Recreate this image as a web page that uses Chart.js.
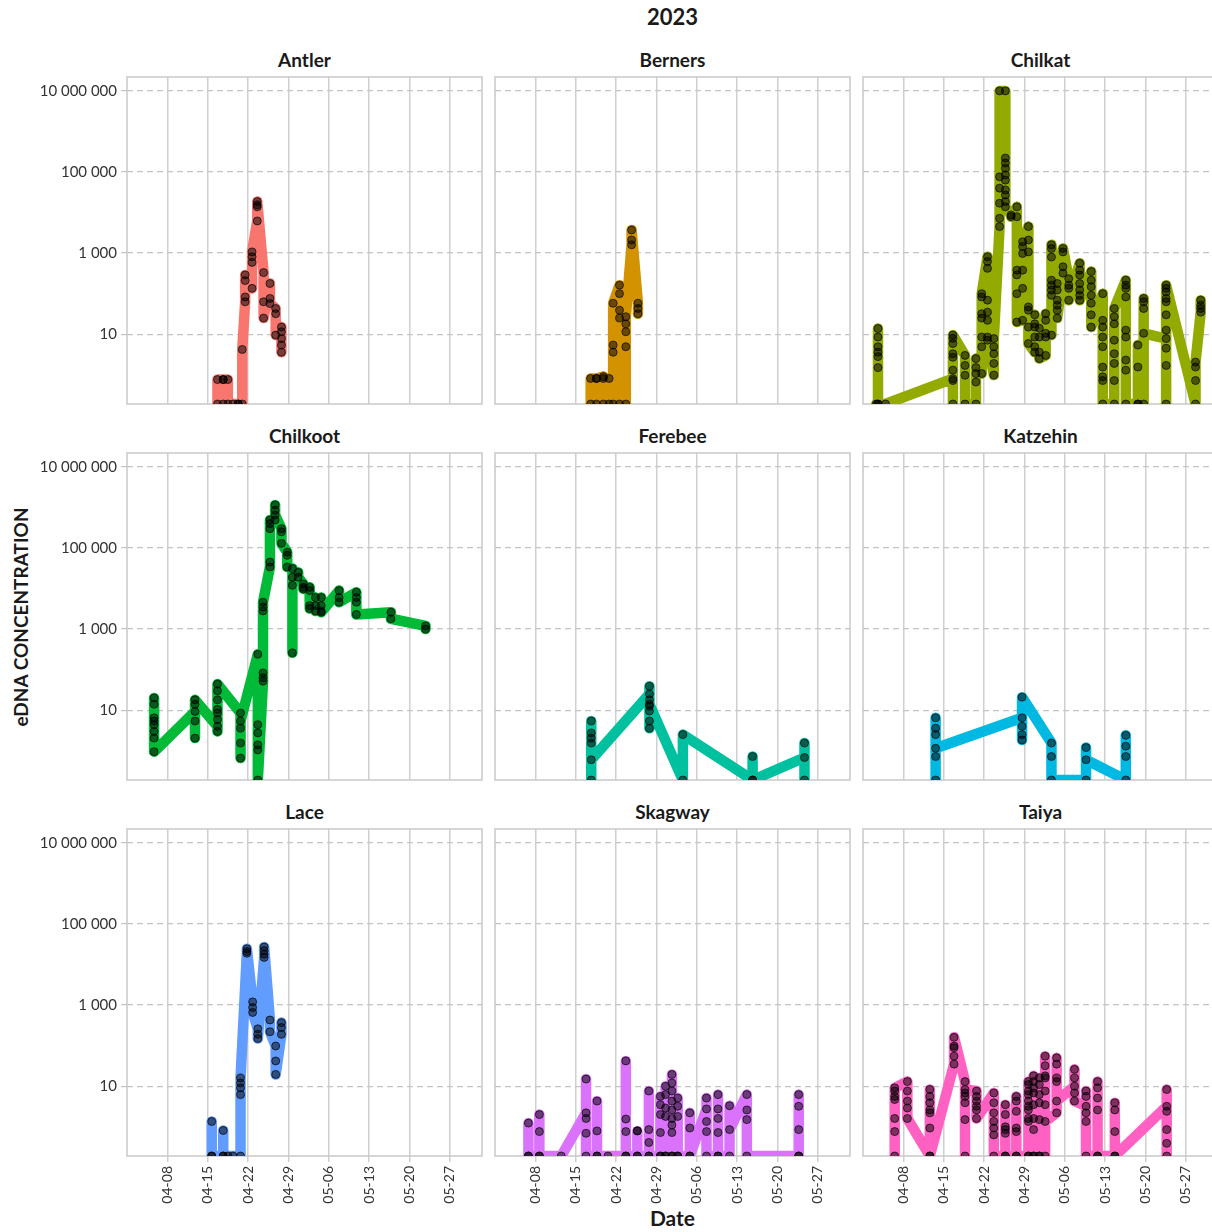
<!DOCTYPE html>
<html lang="en">
<head>
<meta charset="UTF-8">
<title>eDNA concentration 2023</title>
<script src="https://cdn.jsdelivr.net/npm/chart.js"></script>
<style>
  html, body { margin:0; padding:0; background:#fff; overflow:hidden; }
  body { width:1212px; height:1232px; position:relative; font-family:Lato, 'Open Sans', sans-serif; color:#1a1a1a; }
  canvas { position:absolute; }
  .txt { position:absolute; font-weight:bold; white-space:nowrap; line-height:1; }
  .ptitle { width:355px; text-align:center; font-size:19px; }
</style>
</head>
<body>
<div class="txt" id="fig-title" style="left:0;width:1345px;text-align:center;top:6px;font-size:22px;">2023</div>
<div class="txt" id="ylab" style="left:20px;top:617px;font-size:19px;transform:translate(-50%,-50%) rotate(-90deg);">eDNA CONCENTRATION</div>
<div class="txt" id="xlab" style="left:0;width:1345px;text-align:center;top:1207px;font-size:21px;">Date</div>

<script>
const SITES = ['Antler', 'Berners', 'Chilkat', 'Chilkoot', 'Ferebee', 'Katzehin', 'Lace', 'Skagway', 'Taiya'];
const COLORS = ['#F8766D', '#D39200', '#93AA00', '#00BA38', '#00C19F', '#00B9E3', '#619CFF', '#DB72FB', '#FF61C3'];
const X_TICK_DAYS = [7, 14, 21, 28, 35, 42, 49, 56];           // days after 04-01
const X_TICK_LABELS = ['04-08', '04-15', '04-22', '04-29', '05-06', '05-13', '05-20', '05-27'];
const Y_TICKS = [10, 1000, 100000, 10000000];

// days counted from 04-01, each values entry = replicates of that day in drawing order (0 = not detected)
const antlerDays = [15.7, 16.7, 17.5, 18.4, 19.3, 20.0, 20.5, 21.7, 22.6, 23.7, 24.8, 25.8, 26.8];
const antlerValues = [
  [0, 0.76], [0.76, 0, 0.76], [0.76, 0], [0], [0, 0], [0, 4.2],
  [63, 83, 210, 290], [135, 590, 810, 1070], [6200, 13800, 15500, 18600],
  [330, 63, 25], [178, 76, 57], [43, 32, 9.5], [15, 11.5, 7.8, 5.4, 3.6]
];

const bernersDays = [16.6, 17.6, 18.8, 19.8, 20.5, 21.6, 22.7, 23.7, 24.8];
const bernersValues = [
  [0, 0.81], [0.81, 0, 0.81], [0.9, 0, 0.81], [0.81, 0], [0, 3.6, 5.4, 58],
  [162, 100, 39, 25, 0], [0, 4.9, 11.5, 18, 27], [1600, 2100, 3700], [58, 43, 32]
];

const chilkatDays = [2.3, 2.6, 3.9, 15.6, 17.7, 19.6, 20.6, 21.6, 22.7, 23.7, 24.7, 25.7, 26.7, 27.7, 28.7,
  29.8, 30.6, 31.7, 32.7, 33.7, 34.7, 35.7, 37.6, 39.6, 41.6, 43.6, 45.6, 47.7, 48.7, 52.6, 57.7, 58.6];
const chilkatValues = [
  [0], [0, 1.5, 2.8, 3.6, 4.9, 8.5, 13.8, 0], [0],
  [0.8, 0, 0.72, 1.3, 2.7, 3.3, 5.9, 7.9, 9.5],
  [3.0, 1.7, 0.97, 0],
  [0, 0.66, 1.07, 1.5, 2.5],
  [1.07, 4.9, 8.5, 25, 32, 83, 100],
  [810, 620, 420, 69, 35, 22, 8.5, 7.1],
  [0.98, 1.9, 3.3, 4.9, 7.8],
  [4500, 7200, 17000, 40000, 76000, 10000000],
  [10000000, 220000, 166000, 123000, 85000, 63000, 36000, 27000, 18600, 13800],
  [8700, 7900],
  [13800, 7900, 380, 290, 100, 20],
  [22, 135, 380, 980, 1450, 1900],
  [4500, 2100, 1070, 47, 39, 15, 5.9],
  [3.6, 4.9, 8.5, 15, 18, 30],
  [14, 8.5, 3.6, 2.5],
  [3.0, 8.5, 10.5, 22, 32],
  [9.5, 91, 123, 162, 214, 800, 1300, 1600],
  [178, 123, 69, 52, 39, 25],
  [320, 460, 1070, 1300],
  [234, 162, 135, 69],
  [560, 380, 290, 178, 123, 91, 69],
  [350, 214, 148, 91, 58, 30, 15],
  [100, 22, 15, 8.5, 4.9, 1.55, 0.89, 0.72, 0],
  [0, 0.72, 1.9, 3.3, 7.1, 18, 27, 43],
  [214, 162, 135, 83, 12.6, 8.5, 2.3, 1.3, 0],
  [0, 5.4, 1.55, 0],
  [0, 76, 63, 43, 10.5],
  [7.8, 4.5, 1.7, 0, 12.6, 30, 63, 76, 110, 135, 162],
  [0, 0.72, 1.55, 2.05],
  [35, 43, 52, 69]
];

const chilkootDays = [4.7, 11.8, 15.7, 19.7, 22.7, 23.6, 24.8, 25.7, 26.8, 27.8, 28.7, 29.7, 30.6, 31.7, 32.7, 33.7, 36.8, 39.8, 45.8, 51.8];
const chilkootValues = [
  [20, 14, 6.5, 5.4, 4.4, 3.0, 2.05, 0.95],
  [9.3, 5.4, 2.05, 14, 18],
  [4.0, 3.0, 5.9, 8.5, 10.5, 18, 30, 44],
  [8.5, 3.6, 1.55, 0.66, 5.4],
  [240, 4.4, 2.75, 1.4, 1.05, 0],
  [52, 63, 83, 2800, 3500, 4600],
  [34000, 45000, 300000, 400000, 490000],
  [490000, 850000, 1150000, 650000],
  [300000, 250000, 130000],
  [79000, 66000, 34000],
  [31000, 260, 19000, 12000],
  [25000, 19000],
  [13000, 10700, 9800],
  [10700, 8900, 3800, 3200],
  [6000, 3800, 2800],
  [6000, 3800, 2800, 2600],
  [8900, 6000, 4600],
  [8100, 6000, 4600, 2300],
  [2600, 1800],
  [1200, 1000]
];

const ferebeeDays = [16.7, 26.8, 32.6, 44.7, 53.7];
const ferebeeValues = [
  [5.4, 2.75, 2.05, 1.55, 0, 0.6],
  [25, 39, 18, 12.6, 9.5, 5.4, 3.6, 14],
  [0, 2.5],
  [0, 0.72, 0],
  [0.68, 1.55, 0]
];

const katzehinDays = [12.6, 27.6, 32.7, 38.7, 45.6];
const katzehinValues = [
  [0, 0.72, 6.5, 3.6, 2.5, 1.15],
  [6.5, 4.0, 2.5, 1.85, 21],
  [1.55, 0.72, 0],
  [0, 1.2, 0.6],
  [0, 0.72, 1.3, 2.4]
];

const laceDays = [14.7, 16.7, 17.5, 18.4, 19.7, 20.8, 21.8, 22.7, 23.8, 24.8, 25.8, 26.8];
const laceValues = [
  [0, 1.35, 0], [0, 0.81, 0], [0], [0],
  [0, 6.2, 9.1, 12, 16],
  [19000, 21000, 24500],
  [1200, 870, 660],
  [260, 190, 150],
  [15000, 18000, 22000, 27000],
  [430, 220],
  [98, 42, 19.5],
  [190, 280, 370]
];

const skagwayDays = [5.8, 7.7, 11.5, 15.8, 17.7, 19.6, 22.7, 24.7, 26.7, 28.7, 29.6, 30.7, 31.7, 33.8, 36.7, 38.7, 40.7, 43.7, 52.7];
const skagwayValues = [
  [0, 1.23, 0],
  [0, 2.0, 0.76, 0],
  [0],
  [2.2, 15, 1.6, 0.69, 0],
  [0, 4.3, 0.79, 0],
  [0],
  [0, 42, 1.55, 0.76, 0],
  [0, 0.79, 0.79, 0],
  [0, 7.6, 0.85, 0.41, 0],
  [0, 5.6, 3.5, 2.0, 0.72, 0],
  [0, 10, 6.2, 2.9, 1.8, 0],
  [0, 19.5, 12, 7.6, 4.3, 2.6, 1.6, 1.1, 0.72, 0],
  [0, 5.1, 3.2, 1.8, 0],
  [0, 2.2, 0.93, 0],
  [2.75, 5.1, 1.35, 0.76, 0],
  [0, 6.2, 2.75, 1.6, 0.72, 0],
  [0, 3.3, 0.85],
  [6.2, 2.6, 1.5, 0],
  [0, 6.2, 3.2, 0.85, 0]
];

const taiyaDays = [5.5, 7.7, 11.6, 15.8, 17.7, 19.7, 22.7, 24.7, 26.6, 28.7, 29.6, 30.6, 31.6, 33.6, 36.7, 38.7, 40.7, 43.7, 52.7];
const taiyaValues = [
  [0, 0.76, 1.6, 4.7, 5.6, 7.6, 9.1],
  [13, 7.6, 4.3, 2.9, 1.6],
  [0, 8.3, 5.6, 3.9, 2.6, 2.2, 0.93, 0],
  [35, 55, 89, 98, 160],
  [13, 0, 1.5, 3.9, 5.6, 6.8, 8.3],
  [7.6, 5.6, 4.3, 3.2, 2.6, 1.6],
  [6.8, 3.9, 2.2, 1.35, 0.93, 0.63, 0],
  [0, 0.69, 0.85, 1.0, 2.0, 3.5, 0],
  [0, 2.4, 4.3, 5.6, 0.93, 0.76, 0],
  [0, 1.35, 1.6, 2.6, 3.2, 4.3, 6.2, 7.6, 11, 13, 0],
  [0, 13, 18, 9.1, 6.8, 3.5, 1.6, 0.85, 0],
  [0, 1.5, 3.9, 6.2, 11, 16, 0],
  [0, 16, 55, 32, 18, 7.6, 3.5, 1.35],
  [2.2, 13, 16, 35, 50, 4.3],
  [10, 26, 16, 6.8, 4.3],
  [3.2, 7.6, 5.6, 2.2, 1.35, 0],
  [0, 13, 9.1, 5.1, 2.6, 0],
  [0, 3.9, 2.6, 0.76, 0],
  [3.2, 8.3, 2.4, 0.85, 0.39, 0]
];

const SERIES = [
  [antlerDays, antlerValues], [bernersDays, bernersValues], [chilkatDays, chilkatValues],
  [chilkootDays, chilkootValues], [ferebeeDays, ferebeeValues], [katzehinDays, katzehinValues],
  [laceDays, laceValues], [skagwayDays, skagwayValues], [taiyaDays, taiyaValues]
];

// layout of the facet grid
const X_MIN = 0, X_MAX = 61.6;
const Y_MIN = 0.19, Y_MAX = 2.2e7;
const PLOT_W = 355, PLOT_H = 327;
const COL_LEFT = [127, 495, 863];
const ROW_TOP = [77, 453, 829];

function spaced(v) {
  return Math.round(v).toString().replace(/\B(?=(\d{3})+(?!\d))/g, ' ');
}

// frame around each facet, under the data
const framePlugin = {
  id: 'frame',
  beforeDatasetsDraw(chart) {
    const { ctx, chartArea: a } = chart;
    ctx.save();
    ctx.strokeStyle = '#c9c9c9';
    ctx.lineWidth = 1.5;
    ctx.strokeRect(a.left, a.top, a.right - a.left, a.bottom - a.top);
    ctx.restore();
  }
};

SITES.forEach((site, i) => {
  const r = Math.floor(i / 3), c = i % 3;
  const padL = c === 0 ? 127 : 6, padR = 6, padT = 6, padB = r === 2 ? 62 : 6;

  const title = document.createElement('div');
  title.className = 'txt ptitle';
  title.textContent = site;
  title.style.left = COL_LEFT[c] + 'px';
  title.style.top = (ROW_TOP[r] - 27) + 'px';
  document.body.appendChild(title);

  const cv = document.createElement('canvas');
  cv.width = padL + PLOT_W + padR;
  cv.height = padT + PLOT_H + padB;
  cv.style.left = (COL_LEFT[c] - padL) + 'px';
  cv.style.top = (ROW_TOP[r] - padT) + 'px';
  document.body.appendChild(cv);

  const [days, values] = SERIES[i];
  const pts = [];
  days.forEach((d, k) => values[k].forEach(v => pts.push({ x: d, y: v > 0 ? v : Y_MIN })));

  new Chart(cv, {
    type: 'line',
    data: {
      datasets: [{
        label: site,
        data: pts,
        borderColor: COLORS[i],
        borderWidth: 10.5,
        borderJoinStyle: 'round',
        borderCapStyle: 'round',
        tension: 0,
        fill: false,
        clip: 0,
        pointRadius: 4,
        pointBackgroundColor: 'rgba(0,0,0,0.5)',
        pointBorderColor: 'rgba(0,0,0,0.65)',
        pointBorderWidth: 1
      }]
    },
    options: {
      responsive: false,
      animation: false,
      devicePixelRatio: 1,
      layout: { padding: { top: padT, right: padR, left: 0, bottom: 0 } },
      plugins: { legend: { display: false }, tooltip: { enabled: false }, title: { display: false } },
      scales: {
        x: {
          type: 'linear', min: X_MIN, max: X_MAX,
          afterBuildTicks: s => { s.ticks = X_TICK_DAYS.map(v => ({ value: v })); },
          afterFit: s => { s.height = padB; s.paddingLeft = 0; s.paddingRight = 0; },
          ticks: {
            display: r === 2, autoSkip: false, minRotation: 90, maxRotation: 90, padding: 4,
            color: '#333', font: { family: 'Lato', size: 14 },
            callback: v => X_TICK_LABELS[X_TICK_DAYS.indexOf(v)]
          },
          grid: { color: '#cfcfcf', lineWidth: 1.5, drawTicks: r === 2, tickLength: 6 },
          border: { display: false }
        },
        y: {
          type: 'logarithmic', min: Y_MIN, max: Y_MAX,
          afterBuildTicks: s => { s.ticks = Y_TICKS.map(v => ({ value: v })); },
          afterFit: s => { s.width = padL; s.paddingTop = 0; s.paddingBottom = 0; },
          ticks: {
            display: c === 0, padding: 4, color: '#333', font: { family: 'Lato', size: 15 },
            callback: v => spaced(v)
          },
          grid: { color: '#c4c4c4', lineWidth: 1.2, drawTicks: c === 0, tickLength: 6 },
          border: { display: false, dash: [6, 4] }
        }
      }
    },
    plugins: [framePlugin]
  });
});
</script>
</body>
</html>
